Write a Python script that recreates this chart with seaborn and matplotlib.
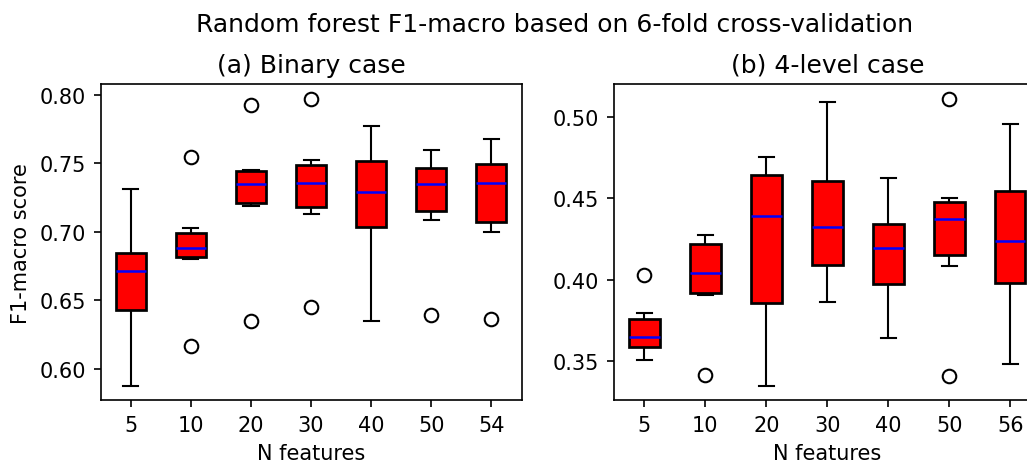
"""
Random forest F1-macro boxplots (6-fold CV), binary vs 4-level case
"""

import matplotlib
matplotlib.use("Agg")
import matplotlib.pyplot as plt
import seaborn as sns
import pandas as pd

# N features per panel
features_bin = ["5", "10", "20", "30", "40", "50", "54"]
features_4lvl = ["5", "10", "20", "30", "40", "50", "56"]

# F1-macro per fold (6 folds), binary case
bin_5 = [0.5876, 0.6361, 0.6650, 0.6774, 0.6873, 0.7310]
bin_10 = [0.6165, 0.6802, 0.6862, 0.6898, 0.7025, 0.7543]
bin_20 = [0.6347, 0.7186, 0.7274, 0.7428, 0.7448, 0.7922]
bin_30 = [0.6450, 0.7130, 0.7334, 0.7378, 0.7524, 0.7968]
bin_40 = [0.6347, 0.6984, 0.7200, 0.7386, 0.7563, 0.7774]
bin_50 = [0.6391, 0.7089, 0.7329, 0.7363, 0.7503, 0.7599]
bin_54 = [0.6362, 0.6996, 0.7308, 0.7408, 0.7520, 0.7674]

# F1-macro per fold (6 folds), 4-level case
lvl_5 = [0.3510, 0.3573, 0.3632, 0.3662, 0.3794, 0.4027]
lvl_10 = [0.3414, 0.3906, 0.3958, 0.4128, 0.4247, 0.4274]
lvl_20 = [0.3350, 0.3712, 0.4300, 0.4478, 0.4697, 0.4751]
lvl_30 = [0.3861, 0.4037, 0.4250, 0.4396, 0.4672, 0.5092]
lvl_40 = [0.3641, 0.3918, 0.4150, 0.4244, 0.4375, 0.4624]
lvl_50 = [0.3412, 0.4086, 0.4350, 0.4394, 0.4501, 0.5108]
lvl_56 = [0.3485, 0.3913, 0.4180, 0.4296, 0.4627, 0.4955]

scores_bin = [bin_5, bin_10, bin_20, bin_30, bin_40, bin_50, bin_54]
scores_4lvl = [lvl_5, lvl_10, lvl_20, lvl_30, lvl_40, lvl_50, lvl_56]


def to_long(features, scores):
    rows = []
    for f, vals in zip(features, scores):
        for v in vals:
            rows.append({"n_features": f, "score": v})
    return pd.DataFrame(rows)


df_bin = to_long(features_bin, scores_bin)
df_4lvl = to_long(features_4lvl, scores_4lvl)

plt.rcParams["font.family"] = ["DejaVu Sans"]
plt.rcParams["font.size"] = 10

DPI = 150
W, H = 1027, 463
fig = plt.figure(figsize=(W / DPI, H / DPI), dpi=DPI)
ax1 = fig.add_axes([100.7 / W, 1 - 401.3 / H, 420.8 / W, 316 / H])
ax2 = fig.add_axes([614 / W, 1 - 401.3 / H, 426.7 / W, 316 / H])

box_kw = dict(
    x="n_features", y="score", color="red", saturation=1, linecolor="black",
    width=0.5,
    boxprops=dict(linewidth=1.3),
    whiskerprops=dict(linewidth=1.0),
    capprops=dict(linewidth=1.0),
    medianprops=dict(color="blue", linewidth=1.2),
    flierprops=dict(marker="o", markerfacecolor="none", markeredgecolor="black",
                    markersize=6.5, markeredgewidth=1.0),
)

sns.boxplot(data=df_bin, order=features_bin, ax=ax1, **box_kw)
sns.boxplot(data=df_4lvl, order=features_4lvl, ax=ax2, **box_kw)

ax1.set_ylim(0.5772, 0.8076)
ax2.set_ylim(0.3261, 0.5198)
ax1.set_yticks([0.60, 0.65, 0.70, 0.75, 0.80])
ax2.set_yticks([0.35, 0.40, 0.45, 0.50])

for ax in (ax1, ax2):
    ax.set_xlim(-0.5, 6.5)
    ax.set_xlabel("N features", fontsize=10)
    for s in ax.spines.values():
        s.set_visible(True)
        s.set_color("black")
    ax.tick_params(colors="black", labelsize=10)

ax1.set_ylabel("F1-macro score", fontsize=10)
ax2.set_ylabel("")
ax1.set_title("(a) Binary case", fontsize=12)
ax2.set_title("(b) 4-level case", fontsize=12)

fig.suptitle("Random forest F1-macro based on 6-fold cross-validation",
             x=555 / W, y=1 - 25 / H, va="center", fontsize=12)

fig.savefig("out.png", dpi=DPI)
